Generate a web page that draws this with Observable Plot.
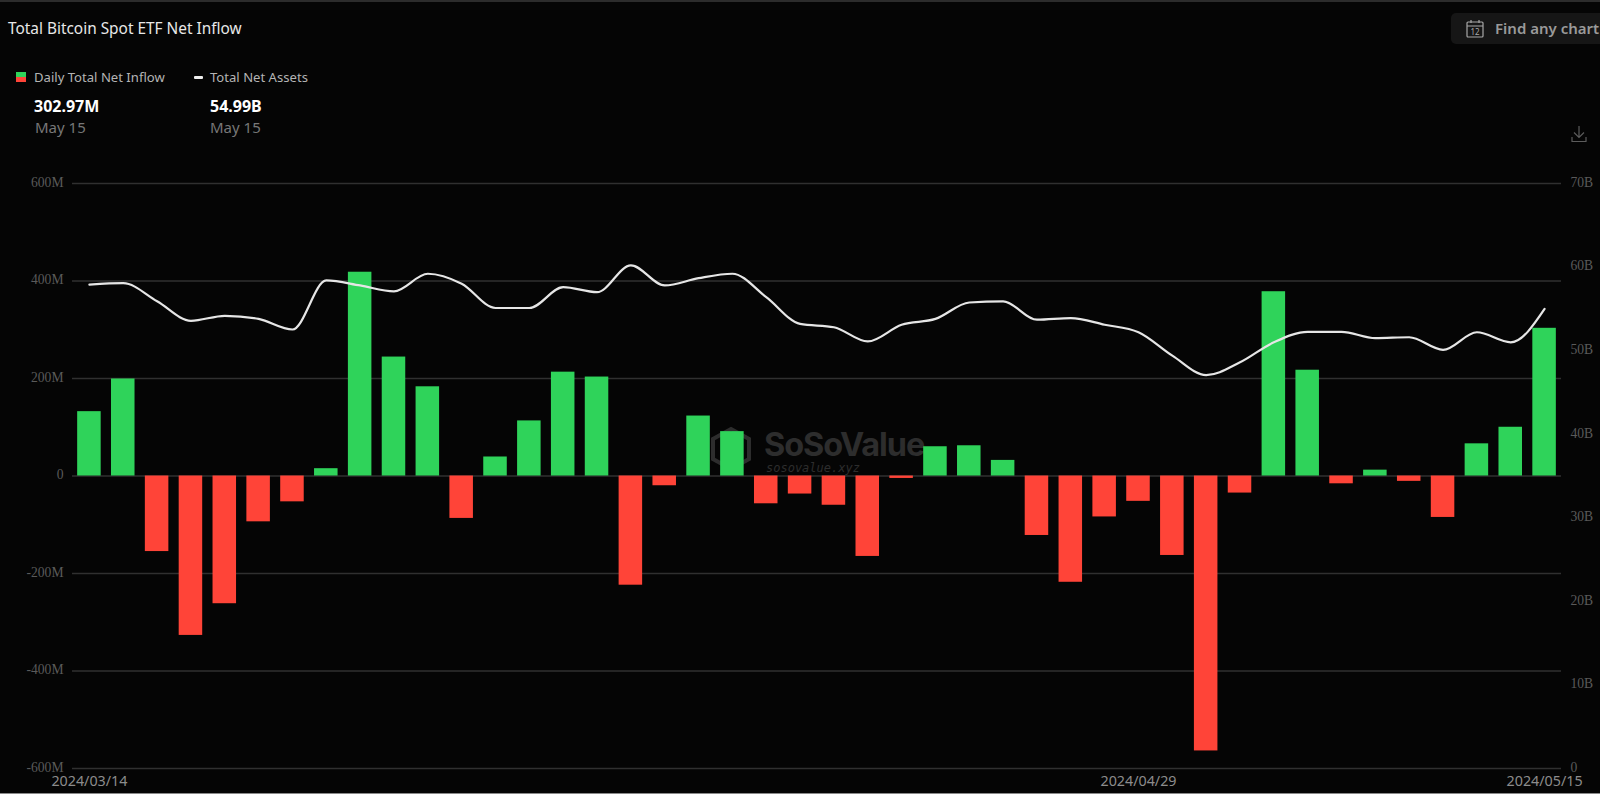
<!DOCTYPE html>
<html><head><meta charset="utf-8">
<script src="https://cdn.jsdelivr.net/npm/d3@7"></script>
<script src="https://cdn.jsdelivr.net/npm/@observablehq/plot@0.6"></script>
<style>
html,body{margin:0;padding:0;background:#050505;width:1600px;height:794px;overflow:hidden;font-family:"Noto Sans",sans-serif}
#page{position:relative;width:1600px;height:794px;background:#050505}
#top{position:absolute;left:0;top:0;width:1600px;height:2px;background:#2c2c2c}
#bot{position:absolute;left:0;top:793px;width:1600px;height:1px;background:#8a8a8a}
.t{position:absolute;white-space:nowrap}
#chart{position:absolute;left:0;top:160px;z-index:2}
#wm{position:absolute;left:710px;top:424px;z-index:1;color:#2d2d2d}
#chart [aria-label="y-axis tick label"] text{font-family:"Liberation Serif",serif;font-size:13.6px}
#chart [aria-label="x-axis tick label"] text{font-family:"Noto Sans",sans-serif;font-size:14.3px}
</style></head><body>
<div id="page">
<div id="top"></div><div id="bot"></div>
<div class="t" style="left:8px;top:18px;font-size:15.4px;color:#e8e8e8">Total Bitcoin Spot ETF Net Inflow</div>
<div class="t" style="left:1451px;top:13px;width:160px;height:31px;background:#161616;border-radius:5px"></div>
<svg class="t" style="left:1466px;top:19px" width="18" height="19" viewBox="0 0 18 19" fill="none" stroke="#a8a8a8" stroke-width="1.2"><rect x="1" y="3" width="16" height="15" rx="1"/><path d="M1 7H17M5 1V4M13 1V4"/><text x="9" y="16" font-size="8" fill="#a8a8a8" stroke="none" text-anchor="middle" font-family="Noto Sans">12</text></svg>
<div class="t" style="left:1495px;top:18px;font-size:15px;font-weight:600;color:#9a9a9a">Find any chart</div>
<div class="t" style="left:16px;top:72px;width:10px;height:5px;background:#2fd35a"></div>
<div class="t" style="left:16px;top:77px;width:10px;height:5px;background:#ff4438"></div>
<div class="t" style="left:34px;top:68px;font-size:13.1px;color:#b4b4b4">Daily Total Net Inflow</div>
<div class="t" style="left:194px;top:76px;width:9px;height:3px;background:#eee;border-radius:1px"></div>
<div class="t" style="left:210px;top:68px;font-size:13.1px;color:#b4b4b4">Total Net Assets</div>
<div class="t" style="left:34px;top:95px;font-size:16px;font-weight:700;color:#fff">302.97M</div>
<div class="t" style="left:210px;top:95px;font-size:16px;font-weight:700;color:#fff">54.99B</div>
<div class="t" style="left:35px;top:117px;font-size:15px;color:#777">May 15</div>
<div class="t" style="left:210px;top:117px;font-size:15px;color:#777">May 15</div>
<svg class="t" style="left:1570px;top:125px" width="18" height="18" viewBox="0 0 18 18" fill="none" stroke="#5c5c5c" stroke-width="1.2"><path d="M9 1V12M4 7.5L9 12.5L14 7.5M2 12V16.5H16V12"/></svg>
<div id="wm">
<svg style="position:absolute;left:0;top:2px" width="42" height="46" viewBox="0 0 42 46" fill="none" stroke="#2d2d2d" stroke-width="4"><path d="M21 3L39 13V33L21 43L3 33V13Z"/><path d="M12 18L21 13L30 18M12 28L21 33L30 28M13 23H29"/></svg>
<div class="t" style="left:54px;top:5px;font:700 32.5px/32px Inter,sans-serif;letter-spacing:-1.1px;color:#2d2d2d">SoSoValue</div>
<div class="t" style="left:56px;top:38px;font:italic 12px/12px 'DejaVu Sans Mono',monospace;color:#2d2d2d">sosovalue.xyz</div>
</div>
<div id="chart"></div>
</div>
<script>
const dates = ["2024/03/14","2024/03/15","2024/03/18","2024/03/19","2024/03/20","2024/03/21","2024/03/22","2024/03/25","2024/03/26","2024/03/27","2024/03/28","2024/04/01","2024/04/02","2024/04/03","2024/04/04","2024/04/05","2024/04/08","2024/04/09","2024/04/10","2024/04/11","2024/04/12","2024/04/15","2024/04/16","2024/04/17","2024/04/18","2024/04/19","2024/04/22","2024/04/23","2024/04/24","2024/04/25","2024/04/26","2024/04/29","2024/04/30","2024/05/01","2024/05/02","2024/05/03","2024/05/06","2024/05/07","2024/05/08","2024/05/09","2024/05/10","2024/05/13","2024/05/14","2024/05/15"];
const inflowM = [132,199,-155,-327,-262,-94,-53,15,418,244,183,-87,39,113,213,203,-224,-20,123,91,-57,-37,-60,-165,-5,60,62,32,-122,-218,-84,-52,-163,-564,-35,378,217,-16,12,-11,-85,66,100,302.97];
const assetsB = [57.9,58.07,55.9,53.57,54.17,53.8,52.53,58.4,57.8,57.1,59.2,58.0,55.1,55.1,57.6,57.0,60.2,57.8,58.67,59.2,56.4,53.2,52.8,51.1,53.1,53.8,55.76,55.9,53.7,53.9,53.1,52.2,49.4,47.07,48.6,51.0,52.25,52.25,51.5,51.6,50.1,52.2,51.0,54.99];
const xTicks = ["2024/03/14","2024/04/29","2024/05/15"];
const leftTicks = [-600,-400,-200,0,200,400,600];
const rightTicks = [0,10,20,30,40,50,60,70];

const toLeft = b => -600 + b * 1200 / 70;
const toRight = m => (m + 600) * 70 / 1200;
const rows = dates.map((d,i)=>({date:d, inflow:inflowM[i], assets:assetsB[i]}));

const plot = Plot.plot({
  width:1600, height:634,
  marginLeft:72, marginRight:39, marginTop:23, marginBottom:26,
  style:{background:"transparent"},
  x:{type:"band", domain:dates, paddingInner:0.305, paddingOuter:0.1525, align:0.5},
  y:{domain:[-600,600]},
  marks:[
    Plot.ruleY(leftTicks,{stroke:"#303030",strokeWidth:1.5}),
    Plot.barY(rows,{x:"date",y:"inflow",fill:d=>d.inflow>=0?"#2fd35a":"#ff4438"}),
    Plot.line(rows,{x:"date",y:d=>toLeft(d.assets),stroke:"#e6e6e6",strokeWidth:2.2,curve:"monotone-x"}),
    Plot.axisY({anchor:"left",ticks:leftTicks,tickSize:0,tickPadding:9,label:null,dy:-1,
      tickFormat:d=>d===0?"0":d+"M",fill:"#5a5a5a"}),
    Plot.axisY({anchor:"right",ticks:rightTicks.map(toLeft),tickSize:0,tickPadding:9,label:null,dy:-1,
      tickFormat:d=>{const b=Math.round(toRight(d));return b===0?"0":b+"B";},fill:"#5a5a5a"}),
    Plot.axisX({ticks:xTicks,tickSize:0,tickPadding:7,label:null,tickFormat:d=>d,fill:"#8c8c8c"})
  ]
});
document.getElementById("chart").appendChild(plot);
</script>
</body></html>
